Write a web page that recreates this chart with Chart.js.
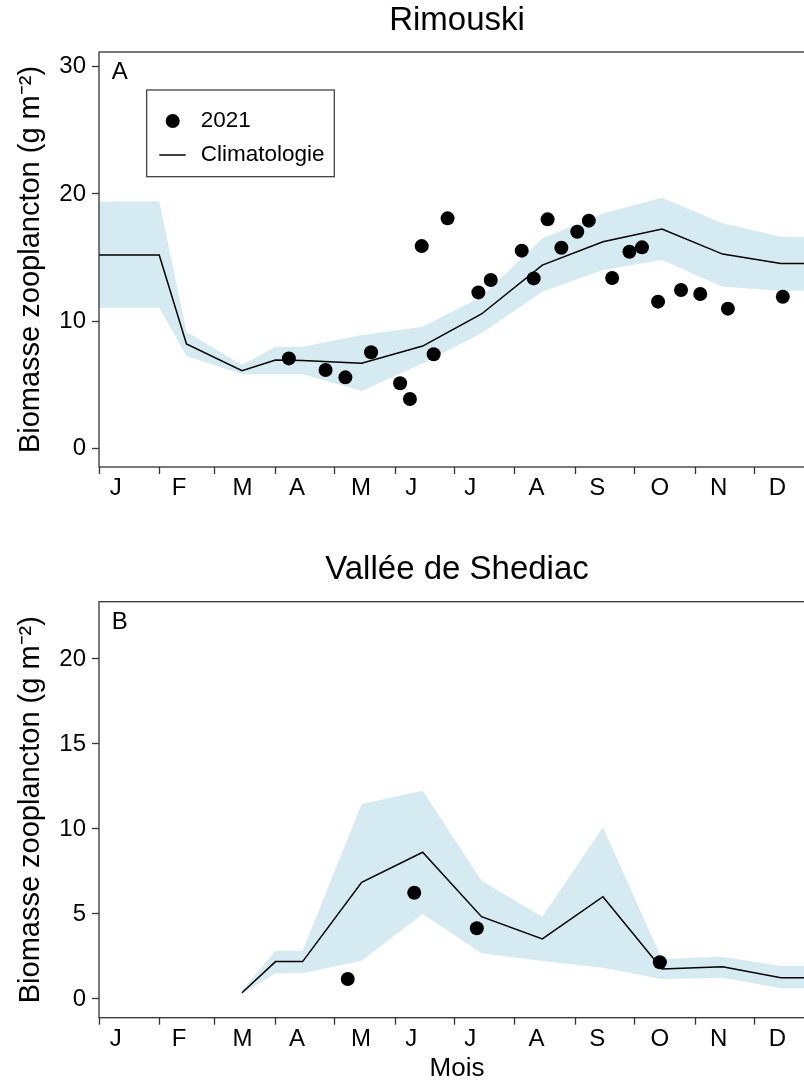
<!DOCTYPE html>
<html>
<head>
<meta charset="utf-8">
<script src="https://cdn.jsdelivr.net/npm/chart.js@4.4.0/dist/chart.umd.min.js"></script>
<style>
  html, body { margin: 0; padding: 0; overflow: hidden; background: #fff; }
  canvas { display: block; }
</style>
</head>
<body>
<canvas id="chartA" width="822" height="540"></canvas>
<canvas id="chartB" width="822" height="546"></canvas>
<script>
// ---- Axis data (day of year, Jan 1 = 0) ----
const monthStarts = [0, 31, 59, 90, 120, 151, 181, 212, 243, 273, 304, 334, 365];
const monthLetters = ['J', 'F', 'M', 'A', 'M', 'J', 'J', 'A', 'S', 'O', 'N', 'D'];
const letterDays = [8.5, 40.8, 73.2, 101, 133.6, 159.2, 189.2, 223, 254, 285.9, 315.9, 345.9];
const yTicksA = [0, 10, 20, 30];
const yTicksB = [0, 5, 10, 15, 20];

// ---- Rimouski ----
const climDaysA = [0, 30.7, 44.6, 72.9, 90, 103.8, 133.9, 165, 195, 226, 256.9, 287, 317.9, 347.6, 365];
const climMeanA = [15.2, 15.2, 8.2, 6.1, 6.94, 6.9, 6.68, 8.04, 10.56, 14.4, 16.24, 17.24, 15.27, 14.54, 14.54];
const climHighA = [19.4, 19.4, 9.17, 6.55, 7.99, 7.99, 8.9, 9.56, 11.92, 16.5, 18.47, 19.7, 17.69, 16.64, 16.64];
const climLowA = [11.05, 11.05, 7.26, 5.82, 5.82, 5.82, 4.5, 6.68, 9.04, 12.31, 14.02, 14.8, 12.7, 12.39, 12.39];
const obsDaysA = [96.8, 115.5, 125.6, 138.7, 153.5, 158.5, 164.5, 170.6, 177.7, 193.4, 199.7, 215.5, 221.6,
                  228.7, 235.7, 243.8, 249.7, 261.6, 270.4, 276.8, 285, 296.7, 306.5, 320.6, 348.6];
const obsA = [7.07, 6.16, 5.58, 7.55, 5.11, 3.88, 15.9, 7.39, 18.08, 12.26, 13.23, 15.54, 13.36,
              18.0, 15.77, 17.03, 17.9, 13.39, 15.46, 15.8, 11.53, 12.45, 12.13, 10.98, 11.92];

// ---- Vallée de Shediac ----
const climDaysB = [72.9, 90, 103.8, 133.9, 165, 195, 226, 256.9, 287, 317.9, 347.6, 365];
const climMeanB = [0.37, 2.2, 2.2, 6.86, 8.63, 4.84, 3.53, 6.02, 1.76, 1.9, 1.25, 1.25];
const climHighB = [0.5, 2.84, 2.84, 11.47, 12.25, 6.96, 4.84, 10.1, 2.35, 2.49, 1.94, 1.94];
const climLowB = [0.3, 1.51, 1.51, 2.25, 5.0, 2.69, 2.24, 1.84, 1.18, 1.25, 0.63, 0.63];
const obsDaysB = [126.8, 160.7, 192.6, 285.9];
const obsB = [1.18, 6.25, 4.16, 2.16];

const FONT = "'Liberation Sans', Arial, sans-serif";
const INK = '#333333';
const BAND = '#d5eaf1';
Chart.defaults.font.family = FONT;
Chart.defaults.color = '#000';

const pts = (xs, ys) => xs.map((x, i) => ({ x: x, y: ys[i] }));

// box around the plot, panel letter, optional legend
const framePlugin = {
  id: 'frame',
  afterDraw(chart, args, opts) {
    const { ctx, chartArea: a } = chart;
    ctx.save();
    ctx.strokeStyle = INK;
    ctx.lineWidth = 1.3;
    ctx.strokeRect(a.left, a.top, a.right - a.left, a.bottom - a.top);
    ctx.fillStyle = '#000';
    ctx.font = '24px ' + FONT;
    ctx.textAlign = 'left';
    ctx.textBaseline = 'middle';
    ctx.fillText(opts.letter, a.left + 12.7, a.top + 20.5);
    if (opts.legend) {
      const lx = a.left + 47.7, ly = a.top + 38;
      ctx.fillStyle = '#fff';
      ctx.fillRect(lx, ly, 187.6, 86.7);
      ctx.lineWidth = 1.2;
      ctx.strokeStyle = INK;
      ctx.strokeRect(lx, ly, 187.6, 86.7);
      ctx.fillStyle = '#000';
      ctx.beginPath();
      ctx.arc(lx + 26, ly + 31, 7, 0, Math.PI * 2);
      ctx.fill();
      ctx.strokeStyle = '#000';
      ctx.lineWidth = 1.5;
      ctx.beginPath();
      ctx.moveTo(lx + 12.6, ly + 65);
      ctx.lineTo(lx + 39, ly + 65);
      ctx.stroke();
      ctx.font = '22.5px ' + FONT;
      ctx.fillText('2021', lx + 54, ly + 31);
      ctx.fillText('Climatologie', lx + 54, ly + 65);
    }
    ctx.restore();
  }
};

function makeChart(id, cfg) {
  const xAxis = {
    type: 'linear',
    min: 0,
    max: 365,
    afterBuildTicks: (s) => {
      s.ticks = monthStarts.concat(letterDays).map(v => ({ value: v }));
    },
    afterFit: (s) => { s.height = cfg.xHeight; },
    ticks: {
      autoSkip: false,
      maxRotation: 0,
      padding: 0,
      font: { size: 24 },
      callback: (v) => {
        const i = letterDays.indexOf(v);
        return i >= 0 ? monthLetters[i] : '';
      }
    },
    grid: {
      display: true,
      drawOnChartArea: false,
      tickLength: 7,
      tickWidth: 1.3,
      tickColor: (c) => (c.tick && monthStarts.includes(c.tick.value)) ? INK : 'rgba(0,0,0,0)'
    },
    border: { display: false },
    title: cfg.xTitle ? {
      display: true,
      text: cfg.xTitle,
      font: { size: 26 },
      padding: { top: 0, bottom: 1.4 }
    } : { display: false }
  };

  return new Chart(document.getElementById(id), {
    type: 'scatter',
    data: {
      datasets: [
        {
          label: '2021',
          data: pts(cfg.obsDays, cfg.obs),
          backgroundColor: '#000',
          borderColor: '#000',
          pointRadius: 7,
          pointBorderWidth: 0
        },
        {
          label: 'Climatologie',
          data: pts(cfg.climDays, cfg.climMean),
          showLine: true,
          borderColor: '#000',
          borderWidth: 1.5,
          pointRadius: 0,
          tension: 0
        },
        {
          label: 'haut',
          data: pts(cfg.climDays, cfg.climHigh),
          showLine: true,
          borderWidth: 0,
          borderColor: 'rgba(0,0,0,0)',
          backgroundColor: BAND,
          pointRadius: 0,
          fill: '+1'
        },
        {
          label: 'bas',
          data: pts(cfg.climDays, cfg.climLow),
          showLine: true,
          borderWidth: 0,
          borderColor: 'rgba(0,0,0,0)',
          pointRadius: 0
        }
      ]
    },
    options: {
      responsive: false,
      animation: false,
      events: [],
      layout: { padding: { left: 0, right: 5.4, top: 0, bottom: 0 } },
      plugins: {
        legend: { display: false },
        tooltip: { enabled: false },
        title: {
          display: true,
          fullSize: false,
          text: cfg.title,
          color: '#000',
          font: { size: 33, weight: 'normal' },
          padding: cfg.titlePad
        },
        frame: { letter: cfg.letter, legend: cfg.legend }
      },
      scales: {
        x: xAxis,
        y: {
          type: 'linear',
          min: cfg.yMin,
          max: cfg.yMax,
          afterBuildTicks: (s) => { s.ticks = cfg.yTicks.map(v => ({ value: v })); },
          afterFit: (s) => { s.width = 99; },
          ticks: { font: { size: 24 }, padding: 6 },
          grid: {
            display: true,
            drawOnChartArea: false,
            tickLength: 7,
            tickWidth: 1.3,
            tickColor: INK
          },
          border: { display: false },
          title: {
            display: true,
            text: 'Biomasse zooplancton (g m\u207B\u00B2)',
            font: { size: 29 },
            padding: { top: 13.6, bottom: 0 }
          }
        }
      }
    },
    plugins: [framePlugin]
  });
}

makeChart('chartA', {
  title: 'Rimouski', titlePad: { top: 1.2, bottom: 11.2 },
  letter: 'A', legend: true,
  yMin: -1.47, yMax: 31.16, yTicks: yTicksA,
  xHeight: 73, xTitle: null,
  climDays: climDaysA, climMean: climMeanA, climHigh: climHighA, climLow: climLowA,
  obsDays: obsDaysA, obs: obsA
});

makeChart('chartB', {
  title: 'Vallée de Shediac', titlePad: { top: 9.9, bottom: 12.2 },
  letter: 'B', legend: false,
  yMin: -1.1, yMax: 23.37, yTicks: yTicksB,
  xHeight: 68.3, xTitle: 'Mois',
  climDays: climDaysB, climMean: climMeanB, climHigh: climHighB, climLow: climLowB,
  obsDays: obsDaysB, obs: obsB
});
</script>
</body>
</html>
